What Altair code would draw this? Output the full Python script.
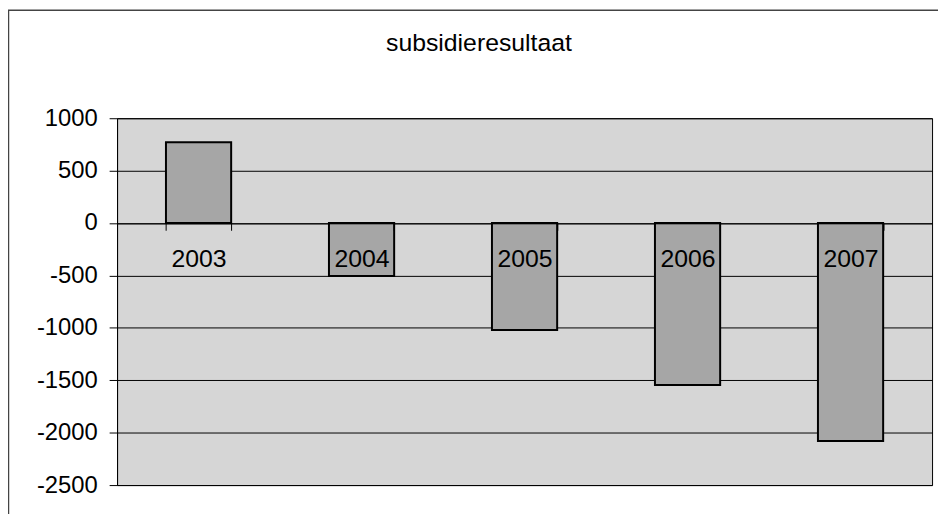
import altair as alt
import pandas as pd

years = ["2003", "2004", "2005", "2006", "2007"]
values = [770, -505, -1020, -1545, -2080]
y_ticks = [1000, 500, 0, -500, -1000, -1500, -2000, -2500]
title_text = "subsidieresultaat"

df = pd.DataFrame({"jaar": years, "resultaat": values})

FONT = "Liberation Sans"

x_enc = alt.X(
    "jaar:N",
    sort=years,
    scale=alt.Scale(paddingInner=0.6, paddingOuter=0.3),
    axis=alt.Axis(
        title=None, orient="bottom", offset=-264, tickBand="extent",
        tickSize=7, tickColor="black", domainColor="black", domainWidth=1,
        labelFont=FONT, labelFontSize=25, labelColor="black", labelPadding=17,
        labelAngle=0, grid=False, zindex=1,
    ),
)
y_enc = alt.Y(
    "resultaat:Q",
    scale=alt.Scale(domain=[-2500, 1000], nice=False, zero=False),
    axis=alt.Axis(
        title=None, values=y_ticks, tickSize=8, tickColor="black",
        domainColor="black", gridColor="black", gridWidth=1, gridOpacity=1,
        labelFont=FONT, labelFontSize=24, labelColor="black", labelPadding=12,
        labelFlush=False, labelExpr="'' + datum.value",
    ),
)

bars = alt.Chart(df).mark_bar(
    color="#a6a6a6", stroke="black", strokeWidth=2
).encode(x=x_enc, y=y_enc)

one = pd.DataFrame({"t": [title_text]})

frame = alt.Chart(one).mark_rect(
    fill=None, stroke="#444444", strokeWidth=1.5
).encode(
    x=alt.value(-109.5), x2=alt.value(840),
    y=alt.value(-109), y2=alt.value(500),
)

title = alt.Chart(one).mark_text(
    font=FONT, fontSize=25, color="black", baseline="middle", align="center"
).encode(text="t:N", x=alt.value(365), y=alt.value(-76))

chart = alt.layer(frame, bars, title).properties(
    width=822,
    height=370,
    autosize=alt.AutoSizeParams(type="none"),
    padding={"left": 110, "top": 109, "right": 6, "bottom": 27},
).configure(background="white").configure_view(
    fill="#d6d6d6", stroke="black", strokeWidth=1
)

chart.save("out.html", embed_options={"renderer": "svg", "actions": False})
